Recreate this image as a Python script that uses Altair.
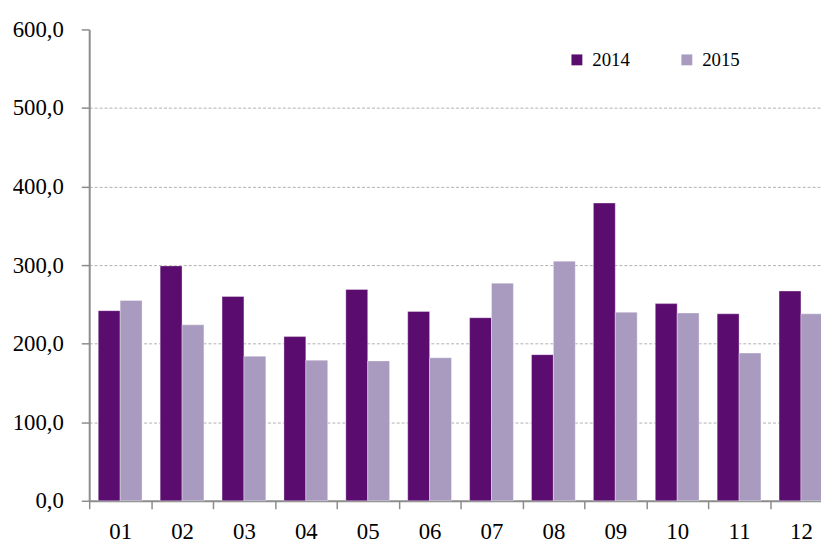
import altair as alt
import pandas as pd

months = ["01", "02", "03", "04", "05", "06", "07", "08", "09", "10", "11", "12"]
v2014 = [242, 299, 260, 209, 269, 241, 233, 186, 379, 251, 238, 267]
v2015 = [255, 224, 184, 179, 178, 182, 277, 305, 240, 239, 188, 238]
years = ["2014", "2015"]
colors = ["#5A0C6F", "#A99BBF"]
y_ticks = [0, 100, 200, 300, 400, 500, 600]

rows = []
for i, m in enumerate(months):
    rows.append({"month": m, "year": years[0], "value": v2014[i]})
    rows.append({"month": m, "year": years[1], "value": v2015[i]})
df = pd.DataFrame(rows)

FONT = "Liberation Serif"

chart = alt.Chart(df).mark_bar(
    stroke="#ffffff", strokeWidth=1, strokeOpacity=0.35
).encode(
    x=alt.X(
        "month:N",
        sort=months,
        scale=alt.Scale(range=[0, 750], paddingInner=0, paddingOuter=0),
        axis=alt.Axis(
            title=None,
            labelAngle=0,
            labelFont=FONT,
            labelFontSize=23,
            labelColor="#000000",
            labelPadding=12,
            tickBand="extent",
            tickSize=8,
            tickColor="#8c8c8c",
            tickWidth=1.5,
            domainColor="#8c8c8c",
            domainWidth=2,
            grid=False,
        ),
    ),
    xOffset=alt.XOffset(
        "year:N",
        sort=years,
        scale=alt.Scale(paddingInner=0, paddingOuter=0.414),
    ),
    y=alt.Y(
        "value:Q",
        scale=alt.Scale(domain=[0, 600], nice=False),
        axis=alt.Axis(
            title=None,
            values=y_ticks,
            labelExpr="replace(format(datum.value, '.1f'), '.', ',')",
            labelFont=FONT,
            labelFontSize=23,
            labelColor="#000000",
            labelPadding=18,
            tickSize=8,
            tickColor="#8c8c8c",
            tickWidth=1.5,
            domainColor="#8c8c8c",
            domainWidth=2,
            grid=True,
            gridColor="#b0b0b0",
            gridDash=[3, 2],
            gridWidth=1,
            gridOpacity={"condition": {"test": "datum.value >= 600 || datum.value <= 0", "value": 0}, "value": 1},
        ),
    ),
    color=alt.Color(
        "year:N",
        sort=years,
        scale=alt.Scale(domain=years, range=colors),
        legend=alt.Legend(
            title=None,
            orient="none",
            legendX=483,
            legendY=21,
            direction="horizontal",
            symbolType="square",
            symbolSize=121,
            symbolStrokeWidth=0,
            labelFont=FONT,
            labelFontSize=19,
            labelColor="#000000",
            labelOffset=6,
            columnPadding=48,
            padding=0,
        ),
    ),
).properties(
    width=739,
    height=476,
    autosize=alt.AutoSizeParams(type="none"),
    padding={"left": 82, "top": 19, "right": 0, "bottom": 40},
).configure_view(stroke=None)

chart.save("out.html", embed_options={"renderer": "svg", "actions": False})
